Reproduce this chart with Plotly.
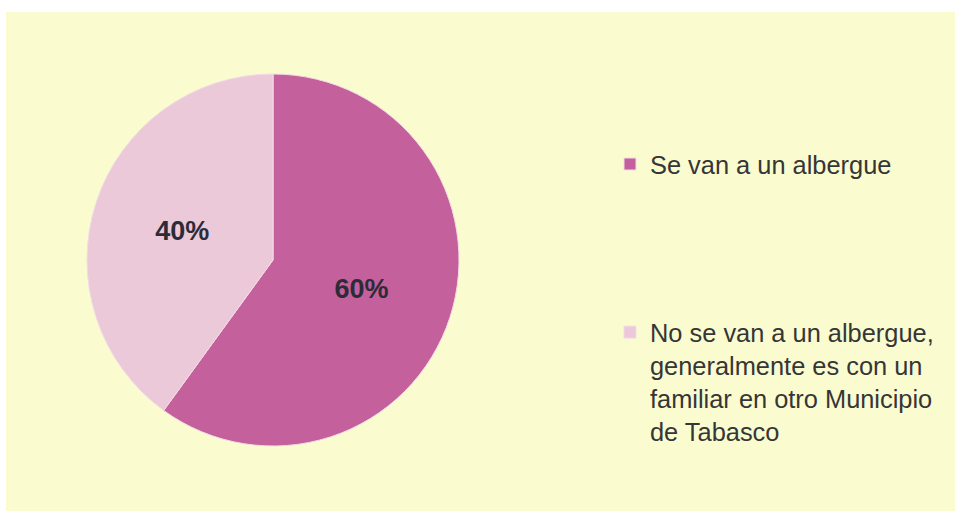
import plotly.graph_objects as go

# Survey answers: where families go when they leave their home
labels = [
    "Se van a un albergue",
    "No se van a un albergue,<br>generalmente es con un<br>familiar en otro Municipio<br>de Tabasco",
]
values = [60, 40]
colors = ["#c4609c", "#ecc9d9"]

W, H = 955, 511

# blank lines after the first entry open the gap between the two legend items
legend_labels = [labels[0] + "<br> " * 4, labels[1]]

cx, cy, r = 273, 260, 186  # pie centre and radius in pixels

fig = go.Figure(
    go.Pie(
        labels=legend_labels,
        values=values,
        sort=False,
        direction="clockwise",
        rotation=0,
        marker=dict(colors=colors, line=dict(color="#f2dbe6", width=1)),
        texttemplate="%{percent:.0%}",
        textposition="inside",
        insidetextorientation="horizontal",
        textfont=dict(family="Liberation Sans, Arial, sans-serif", size=27,
                      color="#2c2c38", weight="bold"),
        hovertemplate="%{label}: %{value}%<extra></extra>",
        domain=dict(
            x=[(cx - r) / W, (cx + r) / W],
            y=[(H - cy - r) / H, (H - cy + r) / H],
        ),
    )
)

fig.update_layout(
    width=W,
    height=H,
    margin=dict(l=0, r=0, t=0, b=0),
    paper_bgcolor="white",
    font=dict(family="Liberation Sans, Arial, sans-serif", color="#363636"),
    showlegend=True,
    legend=dict(
        x=610 / W,
        xanchor="left",
        y=1 - 141 / H,
        yanchor="top",
        valign="top",
        bgcolor="rgba(0,0,0,0)",
        font=dict(size=25.4, color="#363636"),
    ),
    shapes=[
        dict(
            type="rect",
            xref="paper",
            yref="paper",
            x0=6 / W,
            x1=1,
            y0=0,
            y1=1 - 12 / H,
            fillcolor="#fafcd0",
            line=dict(width=0),
            layer="below",
        )
    ],
)

fig.write_html("out.html")
